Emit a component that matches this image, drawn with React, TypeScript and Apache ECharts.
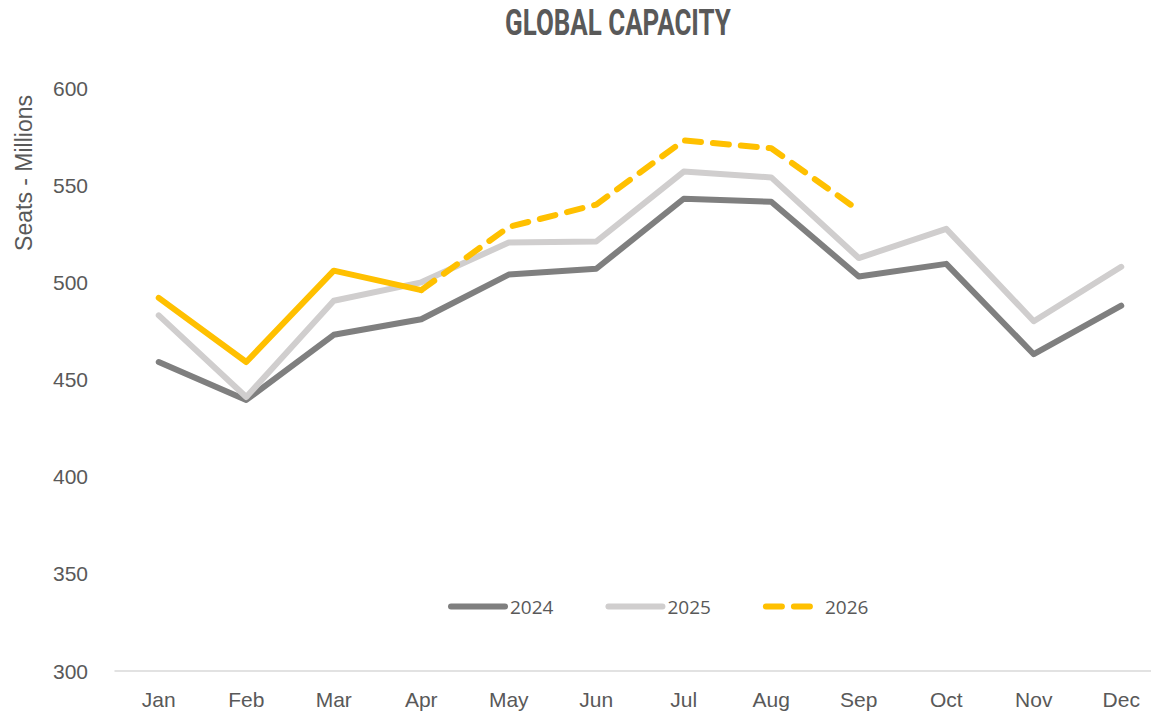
import React, { useEffect, useRef } from "react";
import * as echarts from "echarts";

const months = ["Jan", "Feb", "Mar", "Apr", "May", "Jun", "Jul", "Aug", "Sep", "Oct", "Nov", "Dec"];
const s2024 = [459, 439.5, 473, 481, 504, 507, 543, 541.5, 503, 509.5, 463, 488];
const s2025 = [483, 441, 490.5, 500, 520.5, 521, 557, 554, 512.5, 527.5, 480, 508];
const s2026Actual = [492, 459, 506, 496, null, null, null, null, null, null, null, null];
const s2026Forecast = [null, null, null, 496, 528.5, 540, 573, 569, 537, null, null, null];
const yTicks = { min: 300, max: 600, interval: 50 };
const titleText = "GLOBAL CAPACITY";

export default function App() {
  const ref = useRef<HTMLDivElement>(null);
  useEffect(() => {
    document.body.style.margin = "0";
    document.body.style.overflow = "hidden";
    const chart = echarts.init(ref.current!, null, { renderer: "svg" });
    const tickFont = "Liberation Sans";
    const titleFont = "bold 37px Roboto";
    let titleW = 290;
    try {
      const cv = document.createElement("canvas").getContext("2d")!;
      cv.font = titleFont;
      titleW = cv.measureText(titleText).width || 290;
    } catch (e) {}
    const sx = 226 / titleW;
    chart.setOption({
      animation: false,
      backgroundColor: "#ffffff",
      graphic: [
        {
          type: "text",
          x: 505,
          y: 22,
          scaleX: sx,
          style: {
            text: titleText,
            fill: "#595959",
            font: titleFont,
            textVerticalAlign: "middle",
          },
        },
        {
          type: "text",
          left: 12,
          top: 95,
          rotation: Math.PI / 2,
          style: {
            text: "Seats - Millions",
            fill: "#595959",
            font: "23px Liberation Sans",
          },
        },
      ],
      legend: {
        data: ["2024", "2025", "2026"],
        left: 443,
        top: 592,
        itemWidth: 54,
        itemHeight: 14,
        itemGap: 52,
        itemStyle: { opacity: 0 },
        lineStyle: { width: 6, cap: "round" },
        textStyle: { fontFamily: "Open Sans", fontSize: 19, color: "#595959" },
      },
      grid: { left: 115, right: 1, top: 88, bottom: 44, containLabel: false },
      xAxis: {
        type: "category",
        data: months,
        boundaryGap: true,
        axisLine: { lineStyle: { color: "#d9d9d9", width: 1.5 } },
        axisTick: { show: false },
        axisLabel: { color: "#595959", fontFamily: tickFont, fontSize: 21, margin: 18 },
      },
      yAxis: {
        type: "value",
        min: yTicks.min,
        max: yTicks.max,
        interval: yTicks.interval,
        splitLine: { show: false },
        axisLine: { show: false },
        axisTick: { show: false },
        axisLabel: { color: "#595959", fontFamily: tickFont, fontSize: 21, margin: 27 },
      },
      series: [
        {
          name: "2024",
          type: "line",
          data: s2024,
          symbol: "none",
          lineStyle: { color: "#7f7f7f", width: 6, cap: "round", join: "round" },
          itemStyle: { color: "#7f7f7f" },
        },
        {
          name: "2025",
          type: "line",
          data: s2025,
          symbol: "none",
          lineStyle: { color: "#d0cece", width: 6, cap: "round", join: "round" },
          itemStyle: { color: "#d0cece" },
        },
        {
          name: "2026 actual",
          type: "line",
          data: s2026Actual,
          symbol: "none",
          lineStyle: { color: "#ffc000", width: 6, cap: "round", join: "round" },
          itemStyle: { color: "#ffc000" },
        },
        {
          name: "2026",
          type: "line",
          data: s2026Forecast,
          symbol: "none",
          lineStyle: { color: "#ffc000", width: 6, type: [16, 12], cap: "round", join: "round" },
          itemStyle: { color: "#ffc000" },
        },
      ],
    });
    return () => chart.dispose();
  }, []);
  return <div ref={ref} style={{ width: 1166, height: 715 }} />;
}
